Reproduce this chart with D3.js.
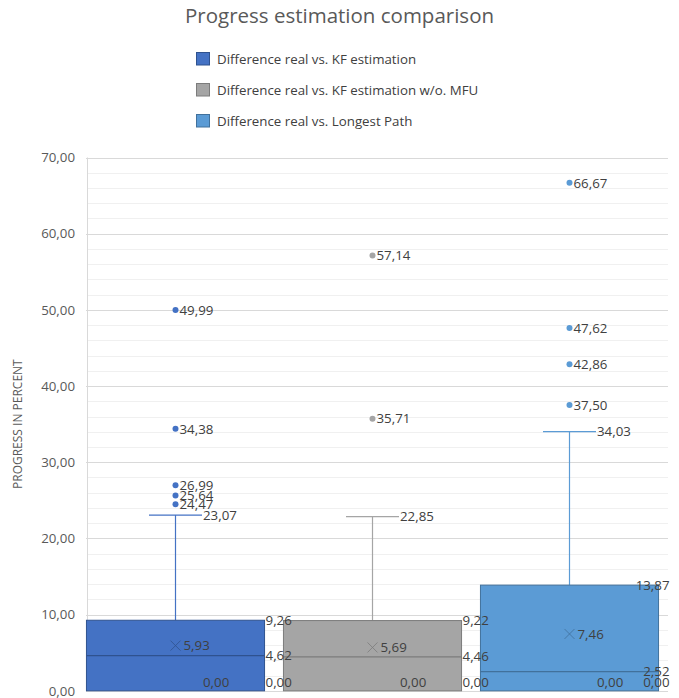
<!DOCTYPE html>
<html>
<head>
<meta charset="utf-8">
<script src="https://cdn.jsdelivr.net/npm/d3@7"></script>
<style>
  html, body { margin: 0; padding: 0; background: #fff; }
  svg { display: block; font-family: "Open Sans", "Noto Sans", sans-serif; }
</style>
</head>
<body>
<svg id="chart" width="679" height="698"></svg>
<script>
// Box-and-whisker summary per series
const categories = [
  "Difference real vs. KF estimation",
  "Difference real vs. KF estimation w/o. MFU",
  "Difference real vs. Longest Path"
];
const lowerWhisker = [0.00, 0.00, 0.00];
const q1Values = [0.00, 0.00, 0.00];
const medianValues = [4.62, 4.46, 2.52];
const q3Values = [9.26, 9.22, 13.87];
const upperWhisker = [23.07, 22.85, 34.03];
const meanValues = [5.93, 5.69, 7.46];
const outliers = [
  [24.47, 25.64, 26.99, 34.38, 49.99],
  [35.71, 57.14],
  [37.50, 42.86, 47.62, 66.67]
];
const yTicks = [0, 10, 20, 30, 40, 50, 60, 70];
const minorStep = 2;

const fillColors = ["#4472C4", "#A5A5A5", "#5B9BD5"];
const strokeColors = ["#2F528F", "#7C7C7C", "#41719C"];
const whiskerColors = ["#4472C4", "#A5A5A5", "#5B9BD5"];

const svg = d3.select("#chart");
const W = 679, H = 698;
const plot = { left: 87, right: 668, top: 157.5, bottom: 690.8 };

const locale = d3.formatLocale({ decimal: ",", thousands: ".", grouping: [3], currency: ["", "€"] });
const fmt = locale.format(".2f");

const y = d3.scaleLinear().domain([0, 70]).range([plot.bottom, plot.top]);
const x = d3.scaleBand()
  .domain(categories)
  .range([plot.left - 10, plot.right])
  .paddingInner(0.096)
  .paddingOuter(0.048);

// Title
svg.append("text")
  .attr("x", W / 2).attr("y", 23)
  .attr("text-anchor", "middle")
  .attr("font-size", 20.5)
  .attr("fill", "#595959")
  .text("Progress estimation comparison");

// Legend
const legend = svg.append("g").attr("transform", "translate(196,52)");
categories.forEach((c, i) => {
  const g = legend.append("g").attr("transform", `translate(0,${i * 31})`);
  g.append("rect").attr("x", 0.5).attr("y", 0.5).attr("width", 13).attr("height", 12.5)
    .attr("fill", fillColors[i]).attr("stroke", strokeColors[i]).attr("stroke-width", 1);
  g.append("text").attr("x", 21).attr("y", 7).attr("dy", "0.35em")
    .attr("font-size", 13.3).attr("fill", "#404040").text(c);
});

// Gridlines
const minorTicks = d3.range(0, 70 + 0.001, minorStep).filter(v => v % 10 !== 0);
svg.append("g").selectAll("line").data(minorTicks).join("line")
  .attr("x1", plot.left).attr("x2", plot.right)
  .attr("y1", d => Math.round(y(d)) + 0.5).attr("y2", d => Math.round(y(d)) + 0.5)
  .attr("stroke", "#F0F0F0").attr("stroke-width", 1);
svg.append("g").selectAll("line").data(yTicks).join("line")
  .attr("x1", plot.left - 1).attr("x2", plot.right)
  .attr("y1", d => Math.round(y(d)) + 0.5).attr("y2", d => Math.round(y(d)) + 0.5)
  .attr("stroke", "#D9D9D9").attr("stroke-width", 1);
svg.append("line")
  .attr("x1", plot.left + 0.5).attr("x2", plot.left + 0.5)
  .attr("y1", plot.top).attr("y2", plot.bottom)
  .attr("stroke", "#D9D9D9");

// Y axis labels
const yAxis = d3.axisLeft(y).tickValues(yTicks).tickFormat(fmt).tickSize(0).tickPadding(12);
const yg = svg.append("g").attr("transform", `translate(${plot.left},0)`).call(yAxis);
yg.select(".domain").remove();
yg.selectAll("text").attr("font-size", 13.3).attr("fill", "#595959")
  .attr("font-family", "Open Sans, Noto Sans, sans-serif");

// Y axis title
svg.append("text")
  .attr("transform", `translate(22,${(plot.top + plot.bottom) / 2}) rotate(-90)`)
  .attr("text-anchor", "middle")
  .attr("font-size", 12).attr("fill", "#595959")
  .text("PROGRESS IN PERCENT");

const boxLayer = svg.append("g");
const labelLayer = svg.append("g");
const labelRight = 669.5;
const labelBottom = plot.bottom - 8;

function addLabel(x0, val) {
  const t = labelLayer.append("text")
    .attr("x", x0)
    .attr("y", Math.min(y(val), labelBottom))
    .attr("dy", "0.35em")
    .attr("font-size", 13.3).attr("fill", "#404040")
    .text(fmt(val));
  const w = t.node().getComputedTextLength();
  if (x0 + w > labelRight) t.attr("x", labelRight - w);
}

const capHalf = 26.5;

categories.forEach((c, i) => {
  const bx = x(c), bw = x.bandwidth(), cx = bx + bw / 2;
  const g = boxLayer.append("g");

  // Whisker stem and cap
  g.append("line").attr("x1", cx).attr("x2", cx)
    .attr("y1", y(upperWhisker[i])).attr("y2", y(q3Values[i]))
    .attr("stroke", whiskerColors[i]).attr("stroke-width", 1.2);
  g.append("line").attr("x1", cx - capHalf).attr("x2", cx + capHalf)
    .attr("y1", y(upperWhisker[i])).attr("y2", y(upperWhisker[i]))
    .attr("stroke", whiskerColors[i]).attr("stroke-width", 1.2);

  // Box
  g.append("rect")
    .attr("x", bx).attr("y", y(q3Values[i]))
    .attr("width", bw).attr("height", y(q1Values[i]) - y(q3Values[i]))
    .attr("fill", fillColors[i]).attr("stroke", strokeColors[i]).attr("stroke-width", 1);

  // Median
  g.append("line").attr("x1", bx).attr("x2", bx + bw)
    .attr("y1", y(medianValues[i])).attr("y2", y(medianValues[i]))
    .attr("stroke", strokeColors[i]).attr("stroke-width", 1.2);

  // Mean marker
  const my = y(meanValues[i]), s = 5;
  g.append("path")
    .attr("d", `M${cx - s},${my - s}L${cx + s},${my + s}M${cx - s},${my + s}L${cx + s},${my - s}`)
    .attr("stroke", strokeColors[i]).attr("stroke-width", 1).attr("fill", "none").attr("opacity", 0.8);

  // Outliers
  g.selectAll("circle").data(outliers[i]).join("circle")
    .attr("cx", cx).attr("cy", d => y(d)).attr("r", 3)
    .attr("fill", fillColors[i]);

  // Value labels
  addLabel(cx + capHalf + 1, lowerWhisker[i]);
  addLabel(bx + bw + 1, q1Values[i]);
  addLabel(bx + bw + 1, medianValues[i]);
  addLabel(bx + bw + 1, q3Values[i]);
  addLabel(cx + capHalf + 1, upperWhisker[i]);
  addLabel(cx + s + 3, meanValues[i]);
  outliers[i].forEach(v => addLabel(cx + 4, v));
});
</script>
</body>
</html>
